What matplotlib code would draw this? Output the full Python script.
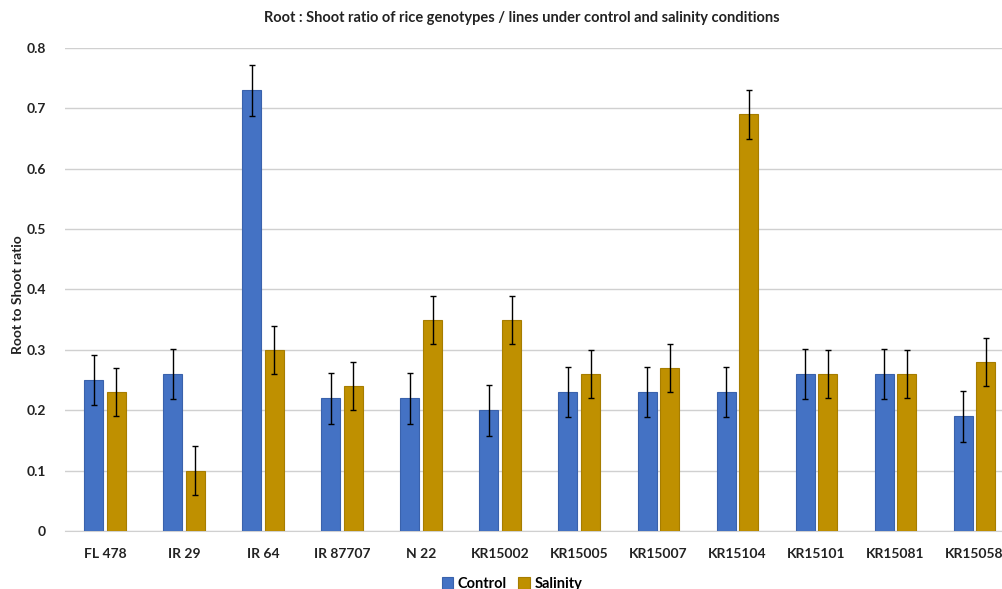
import numpy as np
import matplotlib.pyplot as plt
import matplotlib as mpl

mpl.rcParams['font.family'] = ['Lato', 'DejaVu Sans']
mpl.rcParams['font.weight'] = 'bold'

genotypes = ['FL 478', 'IR 29', 'IR 64', 'IR 87707', 'N 22', 'KR15002',
             'KR15005', 'KR15007', 'KR15104', 'KR15101', 'KR15081', 'KR15058']
control = [0.25, 0.26, 0.73, 0.22, 0.22, 0.20, 0.23, 0.23, 0.23, 0.26, 0.26, 0.19]
salinity = [0.23, 0.10, 0.30, 0.24, 0.35, 0.35, 0.26, 0.27, 0.69, 0.26, 0.26, 0.28]
control_err = [0.042] * 12
salinity_err = [0.04] * 12

fig = plt.figure(figsize=(10.03, 5.89), dpi=100)
# axes run a little past the right edge so the last group is clipped
ax = fig.add_axes([0.0653, 0.0985, 0.9457, 0.82])

x = np.arange(len(genotypes))
w = 0.24
off = 0.143
ebar = dict(ecolor='black', elinewidth=1.0, capsize=2.5, capthick=1.0)
ax.bar(x - off, control, w, yerr=control_err, color='#4472C4', edgecolor='#3A62AC',
       linewidth=0.8, error_kw=ebar, label='Control', zorder=3)
ax.bar(x + off, salinity, w, yerr=salinity_err, color='#BF9000', edgecolor='#A67D00',
       linewidth=0.8, error_kw=ebar, label='Salinity', zorder=3)

ax.set_xlim(-0.5, len(genotypes) - 0.5)
ax.set_ylim(0, 0.8)
ax.set_yticks(np.arange(0, 0.81, 0.1))
ax.set_yticklabels(['0'] + ['%.1f' % v for v in np.arange(0.1, 0.81, 0.1)])
ax.set_xticks(x)
ax.set_xticklabels(genotypes)
ax.grid(axis='y', color='#D0D0D0', linewidth=1.0, zorder=0)
for s in ['top', 'right', 'left']:
    ax.spines[s].set_visible(False)
ax.spines['bottom'].set_color('#D0D0D0')
ax.tick_params(axis='both', length=0, labelsize=10, colors='#222222')
ax.tick_params(axis='x', pad=12)
ax.tick_params(axis='y', pad=14)

fig.text(18 / 1003, 0.5, 'Root to Shoot ratio', rotation=90, ha='center', va='center',
         fontsize=10, fontweight='bold', color='#222222')
fig.text(522 / 1003, 1 - 18 / 589, 'Root : Shoot ratio of rice genotypes / lines under control and salinity conditions',
         ha='center', va='center', fontsize=10.5, fontweight='bold', color='#222222')

fig.legend(loc='center', bbox_to_anchor=(512 / 1003, 1 - 584 / 589), ncol=2, frameon=False,
           fontsize=10.5, handlelength=0.8, handleheight=0.8, handletextpad=0.3, columnspacing=0.8)

fig.savefig('out.png', dpi=100)
